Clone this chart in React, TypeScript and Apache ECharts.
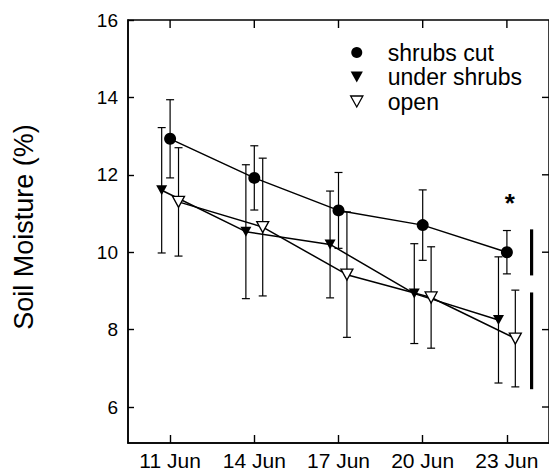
import React, { useEffect, useRef } from 'react';
import * as echarts from 'echarts';

// ---- data ----
const days = [11, 14, 17, 20, 23];
const dayLabels = ['11 Jun', '14 Jun', '17 Jun', '20 Jun', '23 Jun'];
const yTicks = [6, 8, 10, 12, 14, 16];
const xRange = [9.5, 24.5];
const yRange = [5.07, 16];

const shrubsCut = [12.93, 11.92, 11.08, 10.7, 10.0];
const shrubsCutErr = [1.01, 0.83, 0.98, 0.91, 0.56];

const underShrubs = [11.6, 10.53, 10.2, 8.93, 8.25];
const underShrubsErr = [1.62, 1.73, 1.38, 1.29, 1.63];

const openSite = [11.3, 10.65, 9.42, 8.83, 7.77];
const openSiteErr = [1.4, 1.78, 1.62, 1.31, 1.25];

// LSD-type vertical bars at the right: [high, low]
const lsdBars = [
  [10.59, 9.4],
  [8.96, 6.46],
];
const lsdDay = 23.88;
const starPoint = [23.1, 11.28];

const names = ['shrubs cut', 'under shrubs', 'open'];
const dodge = [0, -0.3, 0.3];

const downTri = 'path://M0,0 L10,0 L5,9 Z';

function makeErr(name: string, vals: number[], errs: number[], off: number) {
  return {
    type: 'custom',
    name,
    z: 2,
    silent: true,
    encode: { x: 0, y: [1, 2] },
    data: days.map((d, i) => [d + off, vals[i] - errs[i], vals[i] + errs[i]]),
    renderItem: (params: any, api: any) => {
      const x = api.value(0);
      const lo = api.coord([x, api.value(1)]);
      const hi = api.coord([x, api.value(2)]);
      const cap = 4;
      const st = { stroke: '#000', lineWidth: 1.2 };
      return {
        type: 'group',
        children: [
          { type: 'line', shape: { x1: lo[0], y1: lo[1], x2: hi[0], y2: hi[1] }, style: st },
          { type: 'line', shape: { x1: hi[0] - cap, y1: hi[1], x2: hi[0] + cap, y2: hi[1] }, style: st },
          { type: 'line', shape: { x1: lo[0] - cap, y1: lo[1], x2: lo[0] + cap, y2: lo[1] }, style: st },
        ],
      };
    },
  };
}

function makeLine(name: string, vals: number[], off: number, symbol: string, size: any, itemStyle: any) {
  return {
    type: 'line',
    name,
    z: 3,
    data: days.map((d, i) => [d + off, vals[i]]),
    symbol,
    symbolSize: size,
    showAllSymbol: true,
    lineStyle: { color: '#000', width: 1.5 },
    itemStyle,
  };
}

// mirrored ticks on the top and right frame, placed through the axis scales
function makeFrameTicks(name: string, pts: number[][], dx: number, dy: number) {
  return {
    type: 'custom',
    name,
    silent: true,
    z: 4,
    clip: false,
    encode: { x: 0, y: 1 },
    data: pts,
    renderItem: (params: any, api: any) => {
      const p = api.coord([api.value(0), api.value(1)]);
      return {
        type: 'line',
        shape: { x1: p[0], y1: p[1], x2: p[0] + dx, y2: p[1] + dy },
        style: { stroke: '#000', lineWidth: 1.4 },
      };
    },
  };
}

export default function App() {
  const ref = useRef<HTMLDivElement>(null);
  useEffect(() => {
    if (!ref.current) return;
    const chart = echarts.init(ref.current, null, { renderer: 'svg' });
    const font = 'Liberation Sans, Arial, Helvetica, sans-serif';
    const axisLine = { show: true, onZero: false, lineStyle: { color: '#000', width: 1.5 } };
    const tickStyle = { color: '#000', width: 1.4 };
    const option: any = {
      animation: false,
      backgroundColor: '#fff',
      textStyle: { fontFamily: font },
      grid: {
        left: 128,
        right: -2,
        top: 20,
        bottom: 27,
        containLabel: false,
        show: true,
        borderColor: '#000',
        borderWidth: 1.5,
        backgroundColor: 'transparent',
      },
      xAxis: {
        type: 'value',
        min: xRange[0],
        max: xRange[1],
        position: 'bottom',
        axisLine,
        splitLine: { show: false },
        axisTick: { show: true, inside: true, length: 8, customValues: days, lineStyle: tickStyle },
        axisLabel: {
          customValues: days,
          margin: 7,
          color: '#000',
          fontSize: 21,
          fontFamily: font,
          formatter: (v: number) => dayLabels[days.indexOf(v)] ?? '',
        },
      },
      yAxis: {
        type: 'value',
        min: yRange[0],
        max: yRange[1],
        position: 'left',
        axisLine,
        splitLine: { show: false },
        axisTick: { show: true, inside: true, length: 6, customValues: yTicks, lineStyle: tickStyle },
        axisLabel: { customValues: yTicks, margin: 10, color: '#000', fontSize: 19, fontFamily: font },
      },
      legend: {
        orient: 'vertical',
        left: 345,
        top: 36,
        itemWidth: 52,
        itemHeight: 11,
        itemGap: 1.5,
        selectedMode: false,
        textStyle: { fontSize: 23, color: '#000', fontFamily: font },
        data: [
          { name: names[0], icon: 'circle', itemStyle: { color: '#000', borderWidth: 0 } },
          { name: names[1], icon: downTri, itemStyle: { color: '#000', borderWidth: 0 } },
          { name: names[2], icon: downTri, itemStyle: { color: '#fff', borderColor: '#000', borderWidth: 1.3 } },
        ],
      },
      graphic: [
        {
          type: 'text',
          x: 24,
          y: 227,
          rotation: Math.PI / 2,
          style: {
            text: 'Soil Moisture (%)',
            fontSize: 27,
            fontFamily: font,
            fill: '#000',
            textAlign: 'center',
            textVerticalAlign: 'middle',
          },
        },
      ],
      series: [
        makeErr('err cut', shrubsCut, shrubsCutErr, dodge[0]),
        makeErr('err under', underShrubs, underShrubsErr, dodge[1]),
        makeErr('err open', openSite, openSiteErr, dodge[2]),
        makeLine(names[1], underShrubs, dodge[1], downTri, [11, 10], { color: '#000', borderWidth: 0 }),
        makeLine(names[2], openSite, dodge[2], downTri, [12, 11], { color: '#fff', borderColor: '#000', borderWidth: 1.3 }),
        makeLine(names[0], shrubsCut, dodge[0], 'circle', 12, { color: '#000', borderWidth: 0 }),
        makeFrameTicks('top ticks', days.map((d) => [d, yRange[1]]), 0, 8),
        makeFrameTicks('right ticks', yTicks.filter((v) => v < yRange[1]).map((v) => [xRange[1], v]), -7, 0),
        {
          type: 'custom',
          name: 'lsd',
          silent: true,
          encode: { x: 0, y: [1, 2] },
          data: lsdBars.map((b) => [lsdDay, b[1], b[0]]),
          renderItem: (params: any, api: any) => {
            const x = api.value(0);
            const lo = api.coord([x, api.value(1)]);
            const hi = api.coord([x, api.value(2)]);
            return {
              type: 'line',
              shape: { x1: lo[0], y1: lo[1], x2: hi[0], y2: hi[1] },
              style: { stroke: '#000', lineWidth: 3.2 },
            };
          },
        },
        {
          type: 'custom',
          name: 'star',
          silent: true,
          encode: { x: 0, y: 1 },
          data: [starPoint],
          renderItem: (params: any, api: any) => {
            const p = api.coord([api.value(0), api.value(1)]);
            return {
              type: 'text',
              x: p[0],
              y: p[1],
              style: {
                text: '*',
                fontSize: 26,
                fontWeight: 'bold',
                fontFamily: font,
                fill: '#000',
                textAlign: 'center',
                textVerticalAlign: 'middle',
              },
            };
          },
        },
      ],
    };
    chart.setOption(option);
    return () => chart.dispose();
  }, []);
  return <div ref={ref} style={{ width: 549, height: 471, position: 'absolute', left: 0, top: 0 }} />;
}
